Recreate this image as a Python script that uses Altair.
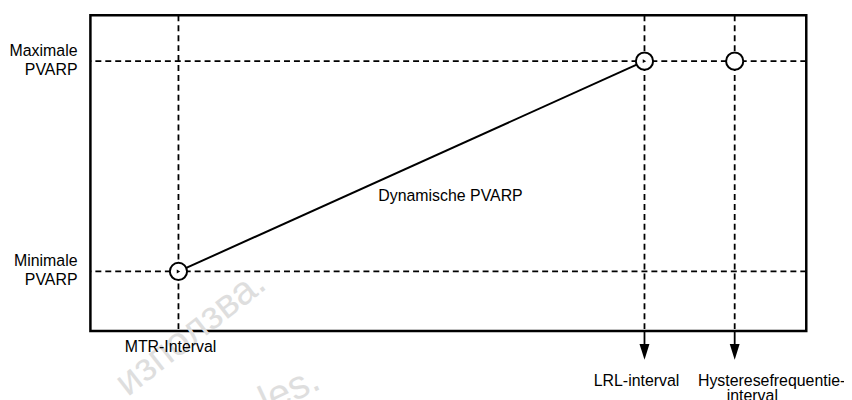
import altair as alt
import pandas as pd

# ---- chart content ----
event_labels = ["MTR-Interval", "LRL-interval", "Hysteresefrequentie-interval"]
event_x = [12.3, 77.4, 90.0]           # position along the interval axis (0-100)
level_labels = ["Maximale\nPVARP", "Minimale\nPVARP"]
level_y = [85.5, 18.9]                  # PVARP level (0-100)
dyn_x = [12.3, 77.4]                    # dynamic PVARP line
dyn_y = [18.9, 85.5]
circle_x = [12.3, 77.4, 90.0]
circle_y = [18.9, 85.5, 85.5]
marker_x = [12.3, 77.4]
marker_y = [18.9, 85.5]
arrow_x = [77.4, 90.0]
arrow_from = [0.0, 0.0]
arrow_to = [-4.5, -4.5]
arrow_head_y = [-6.6, -6.6]
dyn_label = ["Dynamische PVARP"]
dyn_label_x = [50.3]
dyn_label_y = [42.8]
watermark = ["използва.", "les."]
watermark_x = [14.0, 27.8]
watermark_y = [-0.6, -18.8]
watermark_angle = [322, 335]

FONT = "Liberation Sans"
FS = 16
xs = alt.Scale(domain=[0, 100], nice=False, zero=False)
ys = alt.Scale(domain=[0, 100], nice=False, zero=False)

levels_df = pd.DataFrame({"label": level_labels, "y": level_y})
events_df = pd.DataFrame({"label": event_labels, "x": event_x})
dyn_df = pd.DataFrame({"x": dyn_x, "y": dyn_y})
circ_df = pd.DataFrame({"x": circle_x, "y": circle_y})
mark_df = pd.DataFrame({"x": marker_x, "y": marker_y})
arrow_df = pd.DataFrame({"x": arrow_x, "y0": arrow_from, "y1": arrow_to, "yh": arrow_head_y})
dlab_df = pd.DataFrame({"label": dyn_label, "x": dyn_label_x, "y": dyn_label_y})
wm_df = pd.DataFrame({"label": watermark, "x": watermark_x, "y": watermark_y, "a": watermark_angle})

X = lambda f="x": alt.X(f"{f}:Q", scale=xs, axis=None)
Y = lambda f="y": alt.Y(f"{f}:Q", scale=ys, axis=None)

wm = alt.Chart(wm_df).mark_text(
    font=FONT, fontSize=40, color="#dedede", align="center", baseline="middle"
).encode(x=X(), y=Y(), text="label:N", angle=alt.Angle("a:Q", scale=None))

hrules = alt.Chart(levels_df).mark_rule(
    color="black", strokeWidth=1.8, strokeDash=[6, 4]
).encode(y=Y())

vrules = alt.Chart(events_df).mark_rule(
    color="black", strokeWidth=1.8, strokeDash=[6, 4]
).encode(x=X())

stems = alt.Chart(arrow_df).mark_rule(color="black", strokeWidth=1.8).encode(
    x=X(), y=Y("y0"), y2="y1:Q"
)
heads = alt.Chart(arrow_df).mark_point(
    shape="M-0.625,-1L0.625,-1L0,1Z", size=256, filled=True, color="black", opacity=1
).encode(x=X(), y=Y("yh"))

line = alt.Chart(dyn_df).mark_line(color="black", strokeWidth=2).encode(x=X(), y=Y())

circles = alt.Chart(circ_df).mark_point(
    shape="circle", size=300, fill="white", stroke="black", strokeWidth=2,
    opacity=1, fillOpacity=1
).encode(x=X(), y=Y())

markers = alt.Chart(mark_df).mark_point(
    shape="triangle-right", size=16, filled=True, color="black", opacity=1
).encode(x=X(), y=Y())

dlabel = alt.Chart(dlab_df).mark_text(
    font=FONT, fontSize=FS, color="black", align="center", baseline="middle"
).encode(x=X(), y=Y(), text="label:N")

left_labels = alt.Chart(levels_df).mark_text(
    font=FONT, fontSize=FS, color="black", align="right", baseline="alphabetic",
    lineBreak="\n", lineHeight=19, dx=-13, dy=-5
).encode(x=alt.value(0), y=Y(), text="label:N")

mtr_label = alt.Chart(events_df.iloc[[0]]).mark_text(
    font=FONT, fontSize=FS, color="black", align="center", baseline="alphabetic",
    dx=-8, dy=21
).encode(x=X(), y=alt.value(318), text="label:N")

lrl_label = alt.Chart(events_df.iloc[[1]]).mark_text(
    font=FONT, fontSize=FS, color="black", align="center", baseline="alphabetic",
    dx=-8, dy=55
).encode(x=X(), y=alt.value(318), text="label:N")

hyst_df = events_df.iloc[[2]]
hyst1 = alt.Chart(hyst_df).transform_calculate(
    t="split(datum.label, '-')[0] + '-'"
).mark_text(
    font=FONT, fontSize=FS, color="black", align="left", baseline="alphabetic",
    dx=-37, dy=55
).encode(x=X(), y=alt.value(318), text="t:N")
hyst2 = alt.Chart(hyst_df).transform_calculate(
    t="split(datum.label, '-')[1]"
).mark_text(
    font=FONT, fontSize=FS, color="black", align="left", baseline="alphabetic",
    dx=-8, dy=70
).encode(x=X(), y=alt.value(318), text="t:N")

chart = alt.layer(
    wm, hrules, vrules, stems, heads, line, circles, markers, dlabel,
    left_labels, mtr_label, lrl_label, hyst1, hyst2
).properties(
    width=721, height=318,
    autosize=alt.AutoSizeParams(type="none"),
    padding={"left": 83, "top": 6, "right": 38, "bottom": 68},
    background="white",
).configure_view(stroke="black", strokeWidth=2.5)

chart.save("out.html", embed_options={"renderer": "svg", "actions": False})
